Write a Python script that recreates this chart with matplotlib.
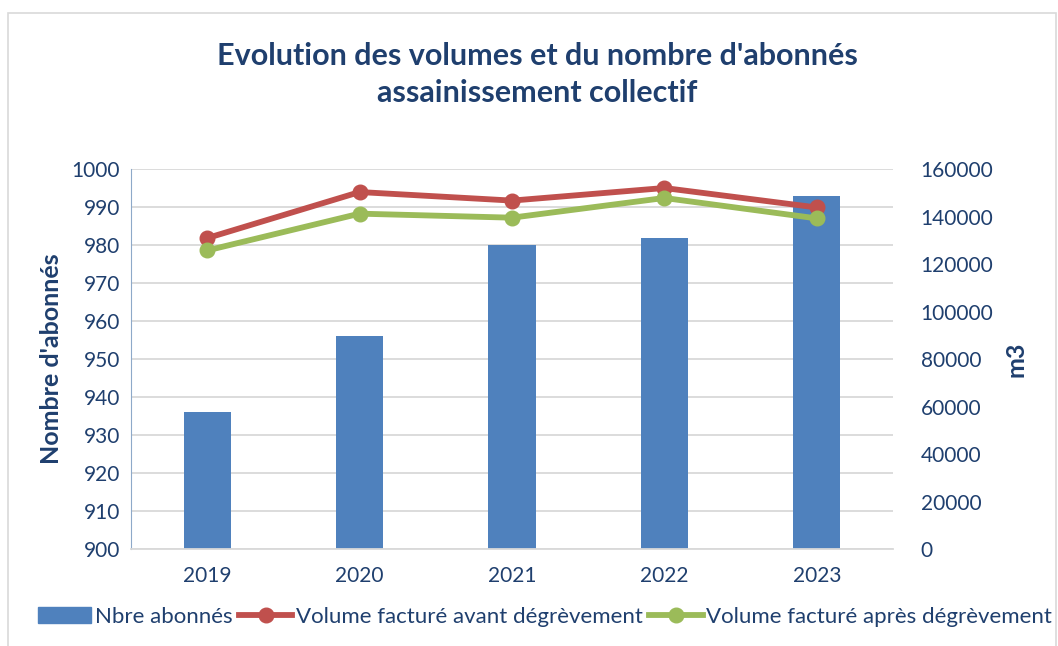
import matplotlib
matplotlib.use("Agg")
import matplotlib.pyplot as plt
from matplotlib.lines import Line2D
from matplotlib.patches import Patch, Rectangle

years = ["2019", "2020", "2021", "2022", "2023"]
abonnes = [936, 956, 980, 982, 993]
vol_avant = [131000, 150400, 146800, 152100, 143900]
vol_apres = [125800, 141300, 139600, 147900, 139300]

left_ticks = list(range(900, 1001, 10))
right_ticks = list(range(0, 160001, 20000))

txt = "#1F3F6E"
bar_c = "#4F81BD"
red_c = "#C0504D"
green_c = "#9BBB59"
grid_c = "#D9D9D9"

plt.rcParams["font.family"] = ["Lato", "DejaVu Sans"]

fig = plt.figure(figsize=(10.58, 6.46), dpi=100)
fig.patches.append(Rectangle((0.008, -0.01), 0.99, 0.99, transform=fig.transFigure,
                             fill=False, edgecolor="#D9D9D9", linewidth=1.2))
ax = fig.add_axes([0.1238, 0.150, 0.7202, 0.588])
x = list(range(len(years)))
ax.bar(x, [a - 900 for a in abonnes], bottom=900, width=0.31, color=bar_c, zorder=2)
ax.set_ylim(900, 1000)
ax.set_xlim(-0.5, 4.5)
ax.set_yticks(left_ticks)
ax.set_xticks(x)
ax.set_xticklabels(years)
ax.yaxis.grid(True, color=grid_c, linewidth=1.3, zorder=0)
ax.set_axisbelow(True)
for s in ["top", "right"]:
    ax.spines[s].set_visible(False)
ax.spines["left"].set_color("#8EA9C9")
ax.spines["bottom"].set_color("#D9D9D9")
ax.spines["bottom"].set_linewidth(1.3)
ax.tick_params(axis="both", length=0, labelsize=15, colors=txt, pad=8)
ax.tick_params(axis="x", pad=12)
ax.set_ylabel("Nombre d'abonnés", fontsize=18, fontweight="bold", color=txt, labelpad=6)

ax2 = ax.twinx()
ax2.plot(x, vol_avant, color=red_c, linewidth=4.2, marker="o", markersize=10.5, zorder=3)
ax2.plot(x, vol_apres, color=green_c, linewidth=4.2, marker="o", markersize=10.5, zorder=4)
ax2.set_ylim(0, 160000)
ax2.set_yticks(right_ticks)
for s in ["top", "right", "left", "bottom"]:
    ax2.spines[s].set_visible(False)
ax2.tick_params(axis="y", length=0, labelsize=15, colors=txt, pad=20)
ax2.set_ylabel("m3", fontsize=18, fontweight="bold", color=txt, labelpad=8)

fig.text(0.508, 0.885, "Evolution des volumes et du nombre d'abonnés\nassainissement collectif",
         ha="center", va="center", fontsize=22, fontweight="bold", color=txt, linespacing=1.4)

handles = [Patch(color=bar_c),
           Line2D([], [], color=red_c, linewidth=4.2, marker="o", markersize=10.5),
           Line2D([], [], color=green_c, linewidth=4.2, marker="o", markersize=10.5)]
labels = ["Nbre abonnés", "Volume facturé avant dégrèvement", "Volume facturé après dégrèvement"]
leg = fig.legend(handles, labels, loc="center", bbox_to_anchor=(0.515, 0.045), ncol=3,
                 frameon=False, fontsize=16, handlelength=2.4, handletextpad=0.15,
                 columnspacing=0.3, labelcolor=txt)
fig.savefig("out.png", dpi=100)
